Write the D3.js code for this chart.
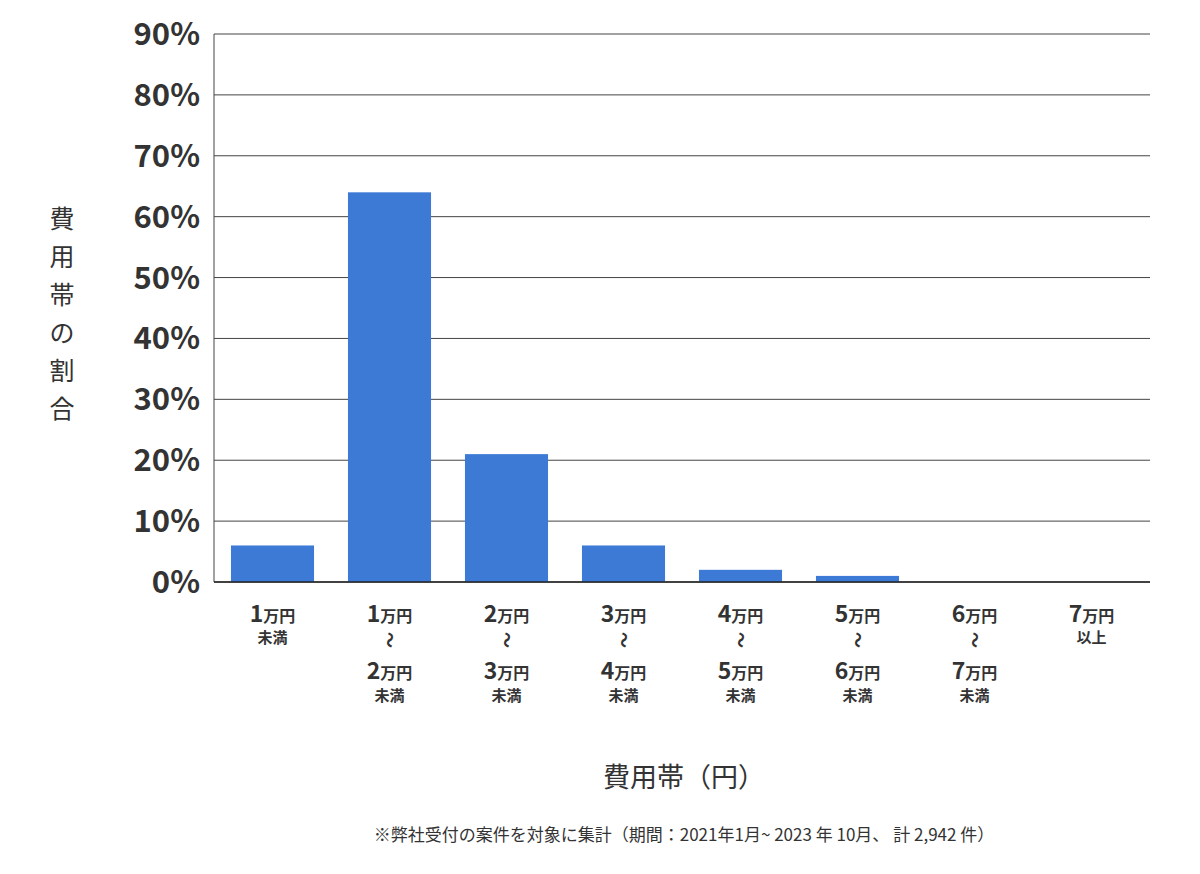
<!DOCTYPE html><html><head><meta charset="utf-8"><script src="https://cdn.jsdelivr.net/npm/d3@7"></script>
<style>body{margin:0;background:#fff}text{font-family:"Noto Sans CJK JP","Noto Sans",sans-serif}</style></head><body>
<svg id="c" width="1200" height="874"></svg>
<script>
const categories=["c1","c2","c3","c4","c5","c6","c7","c8"];
const values=[6,64,21,6,2,1,0,0];
const labelFrom=["1","1","2","3","4","5","6","7"];
const labelTo=[null,"2","3","4","5","6","7",null];
const labelSuffix=["未満","未満","未満","未満","未満","未満","未満","以上"];
const yTicks=[0,10,20,30,40,50,60,70,80,90];
const svg=d3.select("#c");
const x=d3.scaleBand().domain(categories).range([214,1150]).paddingInner(0.29).paddingOuter(0.145);
const y=d3.scaleLinear().domain([0,90]).range([582,34]);
svg.append("g").selectAll("line").data(yTicks).join("line")
 .attr("x1",214).attr("x2",1150).attr("y1",d=>y(d)).attr("y2",d=>y(d)).attr("stroke","#444").attr("stroke-width",1);
svg.append("line").attr("x1",214).attr("x2",214).attr("y1",34).attr("y2",582).attr("stroke","#444");
svg.append("g").selectAll("text").data(yTicks).join("text").attr("x",200).attr("y",d=>y(d)+11)
 .attr("text-anchor","end").attr("font-size",31).attr("font-weight",700).attr("fill","#333").text(d=>d+"%");
svg.append("g").selectAll("rect").data(values).join("rect").attr("x",(d,i)=>x(categories[i])).attr("width",x.bandwidth())
 .attr("y",d=>y(d)).attr("height",d=>582-y(d)).attr("fill","#3d7ad6");
svg.append("line").attr("x1",214).attr("x2",1150).attr("y1",582).attr("y2",582).attr("stroke","#222").attr("stroke-width",1.5);
function amount(g,yy,n){const t=g.append("text").attr("y",yy).attr("text-anchor","middle").attr("fill","#333").attr("font-weight",700);
 t.append("tspan").attr("font-size",23).text(n);t.append("tspan").attr("font-size",16).text("万円");}
categories.forEach((c,i)=>{const g=svg.append("g").attr("transform",`translate(${x(c)+x.bandwidth()/2},0)`);
 amount(g,622,labelFrom[i]);
 if(labelTo[i]){g.append("text").attr("transform","translate(0,640) rotate(90)").attr("text-anchor","middle").attr("dy","0.35em").attr("font-size",16).attr("font-weight",700).attr("fill","#333").text("〜");
  amount(g,679,labelTo[i]);
  g.append("text").attr("y",701).attr("text-anchor","middle").attr("font-size",15).attr("font-weight",700).attr("fill","#333").text(labelSuffix[i]);
 } else g.append("text").attr("y",643).attr("text-anchor","middle").attr("font-size",15).attr("font-weight",700).attr("fill","#333").text(labelSuffix[i]);
});
const yl="費用帯の割合".split("");
svg.append("g").selectAll("text").data(yl).join("text").attr("x",62).attr("y",(d,i)=>228+i*38).attr("text-anchor","middle").attr("font-size",25).attr("fill","#333").text(d=>d);
svg.append("text").attr("x",684).attr("y",787).attr("text-anchor","middle").attr("font-size",27).attr("fill","#333").text("費用帯（円）");
svg.append("text").attr("x",684).attr("y",841).attr("text-anchor","middle").attr("font-size",17).attr("fill","#333").text("※弊社受付の案件を対象に集計（期間：2021年1月~ 2023 年 10月、 計 2,942 件）");
</script></body></html>
